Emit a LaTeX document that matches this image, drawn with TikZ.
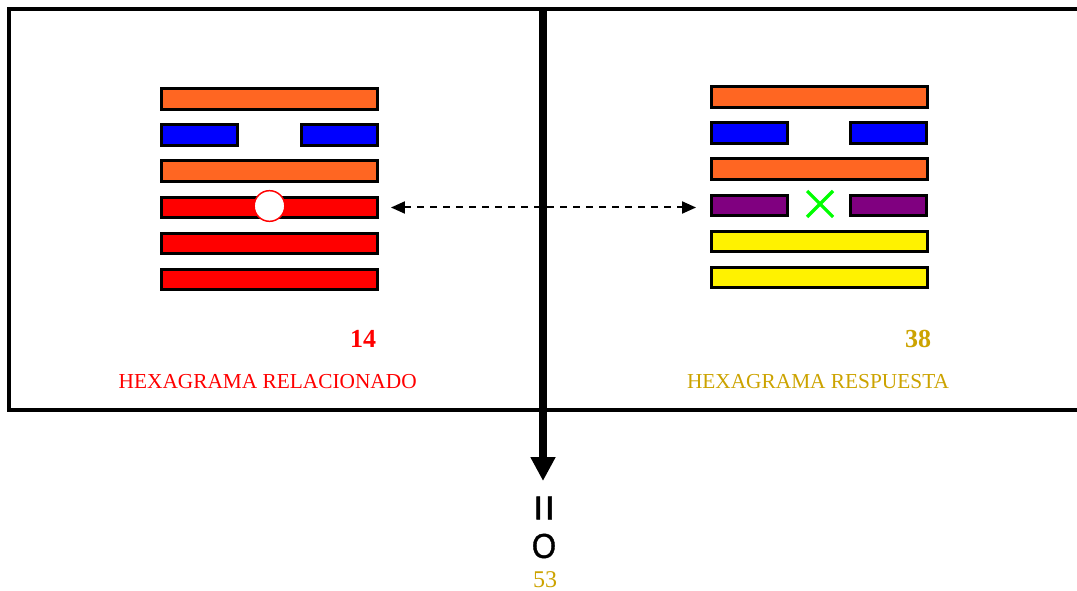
\documentclass[tikz,border=0pt]{standalone}
\usepackage{fontspec}
\setmainfont{Liberation Serif}
\newfontfamily\arialf[FakeBold=1.2]{Liberation Sans}
\usetikzlibrary{arrows.meta}
\definecolor{hexorange}{RGB}{255,102,34}
\definecolor{hexgold}{RGB}{204,163,0}
\definecolor{hexpurple}{RGB}{128,0,128}
\definecolor{hexlime}{RGB}{0,255,0}
\begin{document}
\begin{tikzpicture}[x=0.75pt,y=-0.75pt,
  bar/.style={draw=black,line width=2.25pt,inner sep=0pt,outer sep=0pt,minimum height=15.4pt,minimum width=162pt},
  halfbar/.style={bar,minimum width=57pt},
  numlabel/.style={font=\fontsize{19.5}{22}\selectfont\bfseries,anchor=base,inner sep=0pt},
  titlelabel/.style={font=\fontsize{16}{19}\selectfont,anchor=base,inner sep=0pt},
  frameline/.style={line width=3pt,draw=black}]
\useasboundingbox (0,0) rectangle (1077,591);
% frame
\draw[frameline] (1090,9) -- (9,9) -- (9,410) -- (1090,410);
% left hexagram
\node[bar,fill=hexorange] (L1) at (269.5,99) {};
\node[halfbar,fill=blue] (L2a) at (199.5,135) {};
\node[halfbar,fill=blue] (L2b) at (339.5,135) {};
\node[bar,fill=hexorange] (L3) at (269.5,171) {};
\node[bar,fill=red] (L4) at (269.5,207.5) {};
\node[bar,fill=red] (L5) at (269.5,243.5) {};
\node[bar,fill=red] (L6) at (269.5,279.5) {};
\node[circle,draw=red,fill=white,line width=1.1pt,minimum size=23pt,inner sep=0pt] (C) at (269.5,206) {};
% right hexagram
\node[bar,fill=hexorange] (R1) at (819,97) {};
\node[halfbar,fill=blue] (R2a) at (749.5,133) {};
\node[halfbar,fill=blue] (R2b) at (888.5,133) {};
\node[bar,fill=hexorange] (R3) at (819,169) {};
\node[halfbar,fill=hexpurple] (R4a) at (749.5,205.5) {};
\node[halfbar,fill=hexpurple] (R4b) at (888.5,205.5) {};
\node[bar,fill=yellow] (R5) at (819,241.5) {};
\node[bar,fill=yellow] (R6) at (819,277.5) {};
\coordinate (X) at (820,204);
\draw[hexlime,line width=2.4pt] ([shift={(-13,-13)}]X) -- ([shift={(13,13)}]X);
\draw[hexlime,line width=2.4pt] ([shift={(-13,13)}]X) -- ([shift={(13,-13)}]X);
% dashed arrow
\draw[line width=1.5pt,dash pattern=on 5.25pt off 4.5pt,
  {Triangle[length=10.5pt,width=9pt]}-{Triangle[length=10.5pt,width=9pt]},
  shorten <=10.1pt, shorten >=11.6pt] (L4.east) -- (L4.east -| R4a.west);
% vertical arrow
\coordinate (vtop) at (543,9);
\coordinate (vbot) at (543,481);
\draw[line width=6pt,-{Triangle[length=18pt,width=17.7pt]}] (vtop) -- (vbot);
% labels
\node[numlabel,text=red] (n14) at (363,347.3) {14};
\node[titlelabel,text=red] (t14) at (267.7,388.7) {HEXAGRAMA RELACIONADO};
\node[numlabel,text=hexgold] (n38) at (918,348) {38};
\node[titlelabel,text=hexgold] (t38) at (818,388.7) {HEXAGRAMA RESPUESTA};
\node[font=\arialf\fontsize{35}{35}\selectfont,rotate=90,inner sep=0pt] (eq) at (548,508) {=};
\node[font=\arialf\fontsize{26}{27}\selectfont,xscale=0.9,inner sep=0pt] (zero) at (544,546) {O};
\node[font=\fontsize{18}{20}\selectfont,text=hexgold,anchor=base,inner sep=0pt] (n53) at (545,587.5) {53};
\end{tikzpicture}
\end{document}
